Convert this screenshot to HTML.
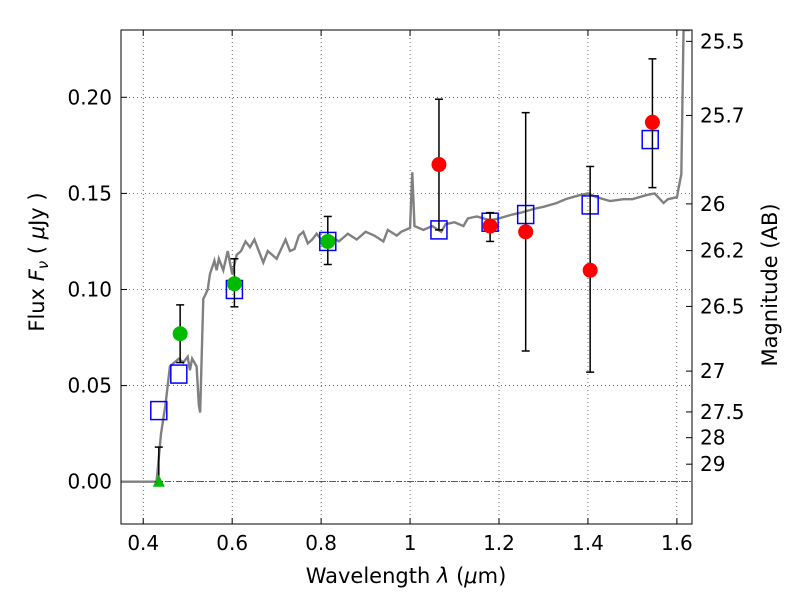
<!DOCTYPE html>
<html><head><meta charset="utf-8"><style>
html,body{margin:0;background:#fff;width:800px;height:600px;overflow:hidden}
svg{display:block}
svg text{font-family:"DejaVu Sans","Liberation Sans",sans-serif;fill:#000}
</style></head><body>
<svg id="c" width="800" height="600"></svg>
<script>
const xTicks=[0.4,0.6,0.8,1.0,1.2,1.4,1.6];
const xTickLabels=["0.4","0.6","0.8","1","1.2","1.4","1.6"];
const yTicks=[0,0.05,0.10,0.15,0.20];
const yTickLabels=["0.00","0.05","0.10","0.15","0.20"];
const magTicks=[25.5,25.7,26,26.2,26.5,27,27.5,28,29];
const magLabels=["25.5","25.7","26","26.2","26.5","27","27.5","28","29"];
const specX=[0.35,0.43,0.44,0.45,0.455,0.46,0.47,0.48,0.49,0.50,0.505,0.51,0.52,0.525,0.528,0.535,0.545,0.55,0.56,0.565,0.57,0.58,0.59,0.60,0.61,0.62,0.63,0.64,0.65,0.66,0.67,0.68,0.69,0.70,0.71,0.72,0.73,0.74,0.75,0.76,0.77,0.78,0.79,0.80,0.82,0.84,0.85,0.86,0.88,0.9,0.92,0.94,0.95,0.97,0.98,1.0,1.005,1.01,1.03,1.05,1.07,1.08,1.1,1.12,1.13,1.15,1.18,1.2,1.23,1.25,1.28,1.3,1.33,1.35,1.38,1.4,1.42,1.45,1.48,1.5,1.53,1.55,1.57,1.58,1.6,1.61,1.615,1.63];
const specY=[0,0,0.025,0.04,0.05,0.06,0.062,0.064,0.062,0.065,0.058,0.064,0.06,0.04,0.036,0.095,0.10,0.108,0.115,0.11,0.116,0.11,0.12,0.108,0.118,0.12,0.125,0.122,0.126,0.12,0.114,0.12,0.118,0.116,0.121,0.126,0.12,0.121,0.128,0.13,0.124,0.126,0.129,0.126,0.128,0.125,0.127,0.129,0.126,0.13,0.128,0.125,0.131,0.128,0.13,0.132,0.161,0.133,0.131,0.133,0.13,0.134,0.135,0.133,0.137,0.138,0.136,0.137,0.139,0.14,0.142,0.143,0.145,0.147,0.149,0.15,0.148,0.146,0.147,0.147,0.149,0.15,0.145,0.147,0.148,0.16,0.235,0.235];
const redX=[1.065,1.18,1.26,1.405,1.545];
const redY=[0.165,0.133,0.130,0.110,0.187];
const redLo=[0.131,0.125,0.068,0.057,0.153];
const redHi=[0.199,0.140,0.192,0.164,0.220];
const greenX=[0.483,0.605,0.815];
const greenY=[0.077,0.103,0.125];
const greenLo=[0.062,0.091,0.113];
const greenHi=[0.092,0.116,0.138];
const triX=[0.435];const triY=[0.0];const triLo=[0.0];const triHi=[0.018];
const boxX=[0.435,0.48,0.605,0.815,1.065,1.18,1.26,1.405,1.54];
const boxY=[0.037,0.056,0.100,0.125,0.131,0.135,0.139,0.144,0.178];

const L=121,R=692,T=30,B=524,x0=0.35,x1=1.634,y0=-0.022,y1=0.235;
const sx=v=>L+(v-x0)/(x1-x0)*(R-L);
const sy=v=>B-(v-y0)/(y1-y0)*(B-T);
const svg=document.getElementById('c');const NS='http://www.w3.org/2000/svg';
function mk(tag,a,parent){const e=document.createElementNS(NS,tag);for(const k in a)e.setAttribute(k,a[k]);(parent||svg).appendChild(e);return e;}
const grid=mk('g',{});


xTicks.forEach((t,i)=>{const x=sx(t);
 mk('line',{x1:x,x2:x,y1:T,y2:B,stroke:'#000','stroke-width':0.6,'stroke-dasharray':'1,3'},grid);
 mk('line',{x1:x,x2:x,y1:B,y2:B-6,stroke:'#000'});mk('line',{x1:x,x2:x,y1:T,y2:T+6,stroke:'#000'});
 const tx=mk('text',{x:x,y:B+26,'font-size':20,'text-anchor':'middle'});tx.textContent=xTickLabels[i];
 
 });
yTicks.forEach((t,i)=>{const y=sy(t);
 mk('line',{x1:L,x2:R,y1:y,y2:y,stroke:'#000','stroke-width':0.6,'stroke-dasharray':'1,3'},grid);
 mk('line',{x1:L,x2:L+6,y1:y,y2:y,stroke:'#000'});
 const tx=mk('text',{x:L-9,y:y+7,'font-size':20,'text-anchor':'end'});tx.textContent=yTickLabels[i];
 
 });
magTicks.forEach((m,i)=>{const y=sy(Math.pow(10,-0.4*(m-23.9)));
 mk('line',{x1:R,x2:R-6,y1:y,y2:y,stroke:'#000'});
 const tx=mk('text',{x:R+8,y:y+7,'font-size':20});tx.textContent=magLabels[i];
 
 });
mk('line',{x1:L,x2:R,y1:sy(0),y2:sy(0),stroke:'#000','stroke-width':0.7,'stroke-dasharray':'6,2,1,2'});
const cp=mk('clipPath',{id:'cl'});mk('rect',{x:L,y:T,width:R-L,height:B-T},cp);
const sp=mk('polyline',{points:specX.map((v,i)=>sx(v)+','+sy(specY[i])).join(' '),fill:'none',stroke:'#808080','stroke-width':2.4,'clip-path':'url(#cl)'});


function err(xs,lo,hi){xs.forEach((v,i)=>{const x=sx(v);
 mk('line',{x1:x,x2:x,y1:sy(lo[i]),y2:sy(hi[i]),stroke:'#000','stroke-width':1.5});
 mk('line',{x1:x-4,x2:x+4,y1:sy(lo[i]),y2:sy(lo[i]),stroke:'#000','stroke-width':1.5});
 mk('line',{x1:x-4,x2:x+4,y1:sy(hi[i]),y2:sy(hi[i]),stroke:'#000','stroke-width':1.5});});}
boxX.forEach((v,i)=>{const r=mk('rect',{x:sx(v)-8,y:sy(boxY[i])-9,width:16,height:18,fill:'none',stroke:'#0000ff','stroke-width':1.5});
 
 });
err(redX,redLo,redHi);err(greenX,greenLo,greenHi);err(triX,triLo,triHi);
redX.forEach((v,i)=>{const c=mk('circle',{cx:sx(v),cy:sy(redY[i]),r:7.5,fill:'#ff0000'});
 
 });
greenX.forEach((v,i)=>{const c=mk('circle',{cx:sx(v),cy:sy(greenY[i]),r:7.5,fill:'#00bb00'});
 
 });
triX.forEach((v,i)=>{const x=sx(v),y=sy(triY[i]);const p=mk('polygon',{points:`${x-6},${y+5} ${x+6},${y+5} ${x},${y-7}`,fill:'#00bb00'});
 
 });
const fr=mk('rect',{x:L,y:T,width:R-L,height:B-T,fill:'none',stroke:'#000','stroke-width':1});


function txt(html,a,name){const g=mk('text',a);g.innerHTML=html;}
</script>
<svg width="800" height="600" style="position:absolute;left:0;top:0;pointer-events:none">
<text x="406" y="583" font-size="21" text-anchor="middle">Wavelength  <tspan font-style="italic">λ</tspan> (<tspan font-style="italic">μ</tspan>m)</text>
<text transform="translate(44,262) rotate(-90)" font-size="21" text-anchor="middle">Flux  <tspan font-style="italic">F</tspan><tspan font-style="italic" font-size="15" dy="4">ν</tspan><tspan dy="-4">  ( </tspan><tspan font-style="italic">μ</tspan>Jy )</text>
<text transform="translate(777,285) rotate(-90)" font-size="21" text-anchor="middle">Magnitude (AB)</text>
</svg>
</body></html>
